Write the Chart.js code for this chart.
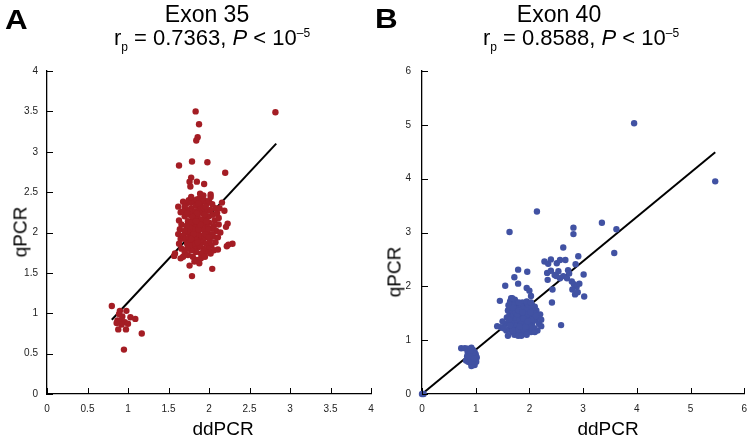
<!DOCTYPE html>
<html>
<head>
<meta charset="utf-8">
<script src="https://cdn.jsdelivr.net/npm/chart.js@4.4.1/dist/chart.umd.min.js"></script>
<style>
  body { margin: 0; width: 747px; height: 442px; position: relative; overflow: hidden; background: #fff;
         font-family: "Liberation Sans", Arial, sans-serif; color: #000; }
  canvas { position: absolute; top: 0; }
  .txt { position: absolute; white-space: nowrap; line-height: 1; }
  .panel { font-weight: bold; font-size: 28px; transform: scaleX(1.12); transform-origin: left top; }
  .head { font-size: 23px; transform: translateX(-50%); }
  .sub { font-size: 22px; transform: translateX(-50%); }
  .xt { font-size: 19px; transform: translateX(-50%); }
  .yt { font-size: 19px; transform: translate(-50%, -50%) rotate(-90deg); }
  .lo { font-size: 12px; position: relative; top: 6px; }
  .hi { font-size: 12px; position: relative; top: -8px; }
</style>
</head>
<body>
<canvas id="exon35" width="400" height="442" style="left:0"></canvas>
<canvas id="exon40" width="383" height="442" style="left:373px"></canvas>

<div class="txt panel" style="left:5px;top:6px">A</div>
<div class="txt head" style="left:207px;top:3px">Exon 35</div>
<div class="txt sub" style="left:212px;top:27px">r<span class="lo">p</span> = 0.7363, <i>P</i> &lt; 10<span class="hi">–5</span></div>
<div class="txt xt" style="left:223px;top:419px">ddPCR</div>
<div class="txt yt" style="left:20px;top:232px">qPCR</div>

<div class="txt panel" style="left:375px;top:5px">B</div>
<div class="txt head" style="left:559px;top:3px">Exon 40</div>
<div class="txt sub" style="left:581px;top:27px">r<span class="lo">p</span> = 0.8588, <i>P</i> &lt; 10<span class="hi">–5</span></div>
<div class="txt xt" style="left:608px;top:419px">ddPCR</div>
<div class="txt yt" style="left:394px;top:272px">qPCR</div>

<script>
// Exon 35 (ddPCR, qPCR) pairs
const exon35Main = [
  [1.62,2.32],[1.65,2.25],[1.68,2.38],[1.72,2.36],[1.75,2.40],[1.78,2.37],[1.82,2.39],[1.85,2.41],
  [1.88,2.42],[1.91,2.38],[1.94,2.40],[1.97,2.36],[2.00,2.39],[2.04,2.35],[2.08,2.30],[1.63,2.15],
  [1.66,2.10],[1.64,2.04],[1.62,1.98],[1.65,1.92],[1.63,1.86],[1.66,1.80],[1.70,1.76],[1.68,1.70],
  [1.74,1.72],[1.70,2.20],[1.72,2.28],[1.74,2.14],[1.76,2.22],[1.78,2.30],[1.80,2.18],[1.82,2.26],
  [1.84,2.33],[1.86,2.20],[1.88,2.28],[1.90,2.32],[1.92,2.24],[1.94,2.30],[1.96,2.18],[1.98,2.27],
  [2.00,2.20],[2.02,2.28],[2.05,2.22],[2.07,2.15],[2.10,2.24],[2.12,2.18],[2.06,2.08],[2.09,2.02],
  [2.12,2.10],[2.14,2.00],[2.11,1.94],[2.08,1.88],[2.05,1.95],[2.03,2.05],[2.00,2.12],[1.97,2.08],
  [1.95,2.02],[1.93,2.12],[1.90,2.06],[1.88,2.14],[1.86,2.08],[1.84,2.02],[1.82,2.10],[1.80,2.04],
  [1.78,2.12],[1.76,2.06],[1.74,2.00],[1.72,2.08],[1.70,2.02],[1.68,1.96],[1.71,1.92],[1.73,1.86],
  [1.75,1.94],[1.77,1.88],[1.79,1.96],[1.81,1.90],[1.83,1.96],[1.85,1.92],[1.87,1.98],[1.89,1.90],
  [1.91,1.96],[1.93,1.88],[1.95,1.94],[1.97,1.86],[1.99,1.98],[2.01,1.90],[2.03,1.84],[2.06,1.78],
  [2.02,1.74],[1.99,1.80],[1.96,1.76],[1.93,1.80],[1.90,1.74],[1.87,1.82],[1.84,1.76],[1.81,1.82],
  [1.78,1.78],[1.76,1.84],[1.73,1.80],[1.80,1.70],[1.85,1.66],[1.90,1.68],[1.95,1.70],[1.88,1.62],
  [1.82,1.64],[1.78,2.44],[1.93,2.46],[1.70,2.32],[1.68,2.26],[1.87,2.36],[1.96,2.32],[2.02,2.44],
  [1.85,2.24],[1.91,2.16],[1.99,2.04],[1.83,1.86],[1.89,1.84],[1.94,2.22],[1.79,2.20],[1.86,1.88],
  [1.92,2.04],[1.76,2.26],[2.04,1.98],[1.97,2.14],[1.81,1.98],[1.87,2.04],[1.89,2.10],[1.95,1.98],
  [2.00,1.94],[1.84,2.14],[1.78,1.92],[1.73,2.24],[2.13,2.30]
];
const exon35Spread = [
  [1.835,3.50],[2.82,3.49],[1.877,3.34],[1.86,3.18],[1.843,3.14],[1.63,2.83],[1.79,2.88],[1.98,2.87],
  [2.20,2.74],[1.78,2.68],[1.76,2.63],[1.85,2.63],[1.94,2.60],[1.77,2.57],[1.89,2.48],[2.02,2.47],
  [2.16,2.37],[2.19,2.27],[2.23,2.11],[2.21,2.07],[2.29,1.86],[2.22,1.83],[2.04,1.55],[1.79,1.46],
  [1.76,1.59],[1.65,1.68],[1.57,1.71],[2.11,1.79],[2.24,1.85],[1.58,1.74]
];
const exon35Low = [
  [0.80,1.09],[0.90,1.03],[0.98,1.03],[0.89,0.99],[0.87,0.91],[0.91,0.91],[0.96,0.89],[1.03,0.95],
  [1.09,0.93],[0.88,0.80],[0.975,0.80],[1.17,0.75],[0.95,0.55],[1.00,0.87],[0.93,0.96],[0.92,0.86],
  [0.86,0.88]
];
const exon35FitX = [0.80, 2.83];
const exon35FitY = [0.92, 3.10];

// Exon 40
const exon40Main = [
  [1.55,1.30],[1.58,1.42],[1.60,1.55],[1.62,1.20],[1.63,1.48],[1.65,1.35],[1.66,1.62],[1.67,1.25],
  [1.68,1.15],[1.69,1.50],[1.70,1.40],[1.71,1.30],[1.72,1.58],[1.73,1.20],[1.74,1.45],[1.75,1.12],
  [1.76,1.35],[1.77,1.65],[1.78,1.25],[1.79,1.52],[1.80,1.42],[1.81,1.10],[1.82,1.32],[1.83,1.60],
  [1.84,1.22],[1.85,1.48],[1.86,1.38],[1.87,1.70],[1.88,1.15],[1.89,1.55],[1.90,1.28],[1.91,1.45],
  [1.92,1.62],[1.93,1.18],[1.94,1.36],[1.95,1.52],[1.96,1.25],[1.97,1.44],[1.98,1.66],[1.99,1.32],
  [2.00,1.50],[2.01,1.20],[2.02,1.40],[2.03,1.58],[2.05,1.30],[2.07,1.46],[2.09,1.22],[2.11,1.38],
  [2.13,1.55],[2.16,1.42],[2.20,1.48],[2.18,1.30],[2.15,1.18],[1.57,1.18],[1.61,1.65],[1.64,1.72],
  [1.67,1.42],[1.70,1.22],[1.72,1.10],[1.74,1.62],[1.76,1.50],[1.78,1.40],[1.80,1.30],[1.82,1.50],
  [1.84,1.40],[1.86,1.28],[1.88,1.45],[1.90,1.36],[1.92,1.50],[1.94,1.28],[1.96,1.40],[1.98,1.22],
  [2.00,1.38],[2.02,1.28],[2.04,1.45],[2.06,1.58],[2.08,1.36],[2.10,1.62],[1.68,1.55],[1.71,1.48],
  [1.73,1.38],[1.75,1.28],[1.77,1.18],[1.79,1.08],[1.81,1.60],[1.83,1.45],[1.85,1.35],[1.87,1.25],
  [1.89,1.12],[1.91,1.58],[1.93,1.42],[1.95,1.32],[1.97,1.55],[1.99,1.45],[2.01,1.35],[2.03,1.15],
  [2.05,1.65],[1.66,1.32],[1.69,1.18],[1.72,1.68],[1.78,1.58],[1.80,1.20],[1.84,1.55],[1.86,1.62],
  [1.88,1.32],[1.90,1.20],[1.92,1.32],[1.94,1.46],[1.96,1.60],[1.98,1.38],[2.00,1.28],[2.04,1.38],
  [2.08,1.50],[1.62,1.38],[1.64,1.28],[1.74,1.52],[1.76,1.42],[1.82,1.38],[1.84,1.30],[1.86,1.45],
  [1.88,1.58],[1.90,1.50],[1.92,1.40],[1.94,1.55],[1.96,1.48],[1.98,1.30],[1.70,1.60],[1.78,1.48],
  [1.80,1.55],[1.82,1.25],[1.87,1.52],[1.89,1.40],[1.93,1.25],[1.97,1.35],[2.02,1.52],[2.06,1.22],
  [1.50,1.35],[1.47,1.24],[1.52,1.22],[2.12,1.45],[2.22,1.38],[1.60,1.08],[1.85,1.08],[1.95,1.10],
  [2.10,1.15],[1.73,1.75],[1.80,1.70],[1.95,1.72],[2.03,1.70],[1.66,1.78],[2.22,1.26],[1.45,1.73],
  [1.40,1.26],[1.68,1.78]
];
const exon40Upper = [
  [1.55,2.01],[1.79,2.31],[1.96,2.27],[1.72,2.17],[1.79,2.05],[1.95,1.97],[2.00,1.92],[2.03,1.82],
  [2.28,2.46],[2.35,2.42],[2.40,2.50],[2.51,2.43],[2.57,2.49],[2.67,2.49],[2.72,2.30],[2.33,2.25],
  [2.40,2.29],[2.54,2.28],[2.63,2.19],[2.70,2.15],[2.34,2.12],[2.47,2.21],[2.79,2.09],[2.83,2.04],
  [2.88,1.99],[2.93,2.05],[2.80,1.94],[2.85,1.85],[2.90,1.89],[2.57,2.15],[2.74,2.24],[2.50,2.19],
  [2.91,2.56],[2.86,2.41],[3.02,1.81],[3.01,2.22],[2.42,1.70],[2.43,1.94],[2.59,1.28]
];
const exon40Spread = [
  [3.95,5.03],[5.46,3.95],[2.14,3.39],[3.35,3.18],[3.62,3.06],[2.82,3.09],[2.82,2.97],[1.63,3.01],
  [3.58,2.62],[2.63,2.72]
];
const exon40Low = [
  [0.73,0.85],[0.80,0.85],[0.85,0.84],[0.92,0.86],[0.95,0.82],[0.98,0.78],[0.85,0.78],[0.88,0.74],
  [0.92,0.72],[0.96,0.70],[1.00,0.74],[1.02,0.68],[0.86,0.68],[0.90,0.66],[0.94,0.64],[0.98,0.62],
  [0.82,0.62],[0.86,0.60],[0.90,0.58],[0.94,0.56],[0.98,0.54],[0.92,0.52],[0.88,0.64],[0.95,0.76],
  [0.90,0.80],[0.84,0.70],[1.01,0.60],[0.93,0.60],[0.89,0.70],[0.97,0.66],[0.00,0.00],[0.03,0.00]
];
const exon40FitX = [0, 5.46];
const exon40FitY = [0, 4.49];

const red = "#a41d24";
const blue = "#4152a3";

// tick marks drawn on the inside of the axes, like the original
const innerTicks = {
  id: "innerTicks",
  afterDraw(chart) {
    const { ctx, chartArea: a, scales: { x, y } } = chart;
    ctx.save();
    ctx.strokeStyle = "#000";
    ctx.lineWidth = 1;
    ctx.beginPath();
    x.ticks.forEach(t => {
      const p = Math.round(x.getPixelForValue(t.value)) + 0.5;
      ctx.moveTo(p, a.bottom);
      ctx.lineTo(p, a.bottom - 6);
    });
    y.ticks.forEach(t => {
      const p = Math.round(y.getPixelForValue(t.value)) + 0.5;
      ctx.moveTo(a.left, p);
      ctx.lineTo(a.left + 6, p);
    });
    ctx.stroke();
    ctx.restore();
  }
};

const pts = arr => arr.map(([x, y]) => ({ x, y }));
const fit = (xs, ys) => xs.map((x, i) => ({ x, y: ys[i] }));
const tickFont = { family: "Liberation Sans", size: 10 };
const label = v => String(+v.toFixed(2));

function makeChart(id, groups, fitX, fitY, color, max, step, yWidth, yPad, rightPad) {
  const axis = (extra) => Object.assign({
    type: "linear",
    min: 0,
    max: max,
    grid: { drawOnChartArea: false, drawTicks: false },
    border: { display: true, color: "#000", width: 1.3 },
  }, extra);

  return new Chart(document.getElementById(id), {
    type: "scatter",
    data: {
      datasets: [
        {
          type: "line",
          data: fit(fitX, fitY),
          borderColor: "#000",
          borderWidth: 2,
          pointRadius: 0,
          fill: false,
          order: 2,
        },
        {
          data: groups.flatMap(pts),
          backgroundColor: color,
          borderWidth: 0,
          pointRadius: 3.2,
          clip: false,
          order: 1,
        },
      ],
    },
    options: {
      responsive: false,
      animation: false,
      events: [],
      layout: { padding: { top: 71, right: rightPad, left: 0, bottom: 0 } },
      plugins: { legend: { display: false }, tooltip: { enabled: false } },
      scales: {
        x: axis({
          position: "bottom",
          ticks: { stepSize: step, color: "#222", padding: 9, maxRotation: 0, font: tickFont, callback: label },
          afterFit: s => { s.height = 48; },
        }),
        y: axis({
          position: "left",
          ticks: { stepSize: step, color: "#222", padding: yPad, font: tickFont, callback: label },
          afterFit: s => { s.width = yWidth; },
        }),
      },
    },
    plugins: [innerTicks],
  });
}

makeChart("exon35", [exon35Main, exon35Spread, exon35Low], exon35FitX, exon35FitY, red, 4, 0.5, 47, 9, 29);
makeChart("exon40", [exon40Main, exon40Upper, exon40Spread, exon40Low], exon40FitX, exon40FitY, blue, 6, 1, 49, 11, 0);
</script>
</body>
</html>
